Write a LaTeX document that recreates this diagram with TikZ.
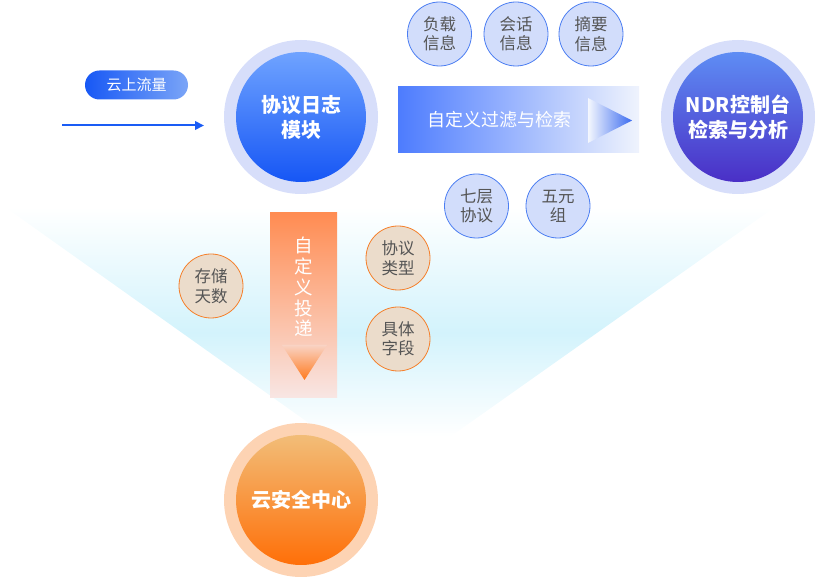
\documentclass[tikz,border=0pt]{standalone}
\usepackage{fontspec}
\setmainfont{Noto Sans CJK SC}
\usetikzlibrary{arrows.meta,shapes.geometric}
\definecolor{fancyan}{HTML}{D3F3FC}
\definecolor{ringblue}{HTML}{D7DEFA}
\definecolor{logtop}{HTML}{6FA3FF}
\definecolor{logbot}{HTML}{1656F5}
\definecolor{ndrtop}{HTML}{5E8DF4}
\definecolor{ndrbot}{HTML}{4A2FC6}
\definecolor{ringorange}{HTML}{FDD3B3}
\definecolor{cloudtop}{HTML}{F2BD78}
\definecolor{cloudbot}{HTML}{FF6F08}
\definecolor{smallbluefill}{HTML}{D2DDFB}
\definecolor{smallblueline}{HTML}{4C7EF2}
\definecolor{smallorfill}{HTML}{EBDCCB}
\definecolor{smallorline}{HTML}{F57F2A}
\definecolor{textgray}{HTML}{555555}
\definecolor{bannerL}{HTML}{4D7CFE}
\definecolor{bannerR}{HTML}{EFF3FD}
\definecolor{trilight}{HTML}{F4F7FE}
\definecolor{tri}{HTML}{3C6CF0}
\definecolor{pillL}{HTML}{1758F5}
\definecolor{pillR}{HTML}{7BA5F7}
\definecolor{arrowblue}{HTML}{1A5CF5}
\definecolor{deltop}{HTML}{FF8C52}
\definecolor{delbot}{HTML}{F8E6E4}
\definecolor{deltri}{HTML}{FF7A1E}
\definecolor{deltritop}{HTML}{F9D3C4}
\pgfdeclareverticalshading{fanshade}{100bp}{color(0bp)=(white); color(33bp)=(white); color(52bp)=(fancyan); color(75bp)=(white); color(100bp)=(white)}
\tikzset{
  ringnode/.style={circle, minimum size=154pt, inner sep=0pt, fill=#1},
  mainnode/.style={circle, minimum size=130pt, inner sep=0pt, text=white, align=center,
    font=\fontsize{20}{25}\selectfont\bfseries},
  smallblue/.style={circle, minimum size=64pt, inner sep=0pt, fill=smallbluefill,
    draw=smallblueline, line width=0.8pt, text=textgray, align=center,
    font=\fontsize{16.5}{19.5}\selectfont},
  smallorange/.style={circle, minimum size=64pt, inner sep=0pt, fill=smallorfill,
    draw=smallorline, line width=0.8pt, text=textgray, align=center,
    font=\fontsize{16.5}{19.5}\selectfont},
}
\begin{document}
\begin{tikzpicture}[x=1pt,y=-1pt]
\useasboundingbox (0,0) rectangle (815,577);

% fan background
\shade[shading=fanshade] (5,207) -- (775,207) -- (389,480) -- cycle;

% cloud traffic pill and arrow
\node[rectangle, rounded corners=14.5pt, minimum width=103pt, minimum height=29pt, inner sep=0pt,
      left color=pillL, right color=pillR, text=white, font=\fontsize{15}{18}\selectfont]
      (cloudflow) at (136.5,85) {云上流量};
\coordinate (flowin) at (62,125.5);
\coordinate (flowout) at (204,125.5);
\draw[line width=2pt, arrowblue, -{Triangle[length=9pt,width=8.5pt]}] (flowin) -- (flowout);

% protocol log module
\node[ringnode=ringblue] (logring) at (301,117) {};
\node[mainnode, top color=logtop, bottom color=logbot] (logmod) at (301,117) {协议日志\\模块};

% NDR
\node[ringnode=ringblue] (ndrring) at (738,117) {};
\node[mainnode, top color=ndrtop, bottom color=ndrbot] (ndr) at (738,117) {NDR控制台\\检索与分析};

% cloud security center
\node[ringnode=ringorange] (cloudring) at (301,500) {};
\node[mainnode, top color=cloudtop, bottom color=cloudbot] (cloudsec) at (301,500) {云安全中心};

% filter banner
\node[rectangle, minimum width=241pt, minimum height=66pt, inner sep=0pt,
      left color=bannerL, right color=bannerR] (filter) at (518.5,120) {};
\shade[left color=trilight, right color=tri] (588,98) -- (632,120.5) -- (588,143) -- cycle;
\node[text=white, font=\fontsize{18}{21}\selectfont] (filtertext) at (499,120) {自定义过滤与检索};

% top small circles
\node[smallblue] (payload) at (439.5,34) {负载\\信息};
\node[smallblue] (session) at (516,34) {会话\\信息};
\node[smallblue] (digest) at (591,34) {摘要\\信息};
\node[smallblue] (layer7) at (476.5,206) {七层\\协议};
\node[smallblue] (tuple) at (558,206) {五元\\组};

% delivery bar
\node[rectangle, minimum width=67pt, minimum height=185pt, inner sep=0pt,
      top color=deltop, bottom color=delbot] (deliver) at (303.5,305.5) {};
\node[text=white, align=center, font=\fontsize{18.5}{20.8}\selectfont] (delivertext) at (303.5,287)
      {自\\定\\义\\投\\递};
\shade[top color=deltritop, bottom color=deltri] (282,345) -- (327,345) -- (304.5,380) -- cycle;

% orange small circles
\node[smallorange] (storage) at (211,286) {存储\\天数};
\node[smallorange] (ptype) at (398,258) {协议\\类型};
\node[smallorange] (fields) at (398,339) {具体\\字段};
\end{tikzpicture}
\end{document}
